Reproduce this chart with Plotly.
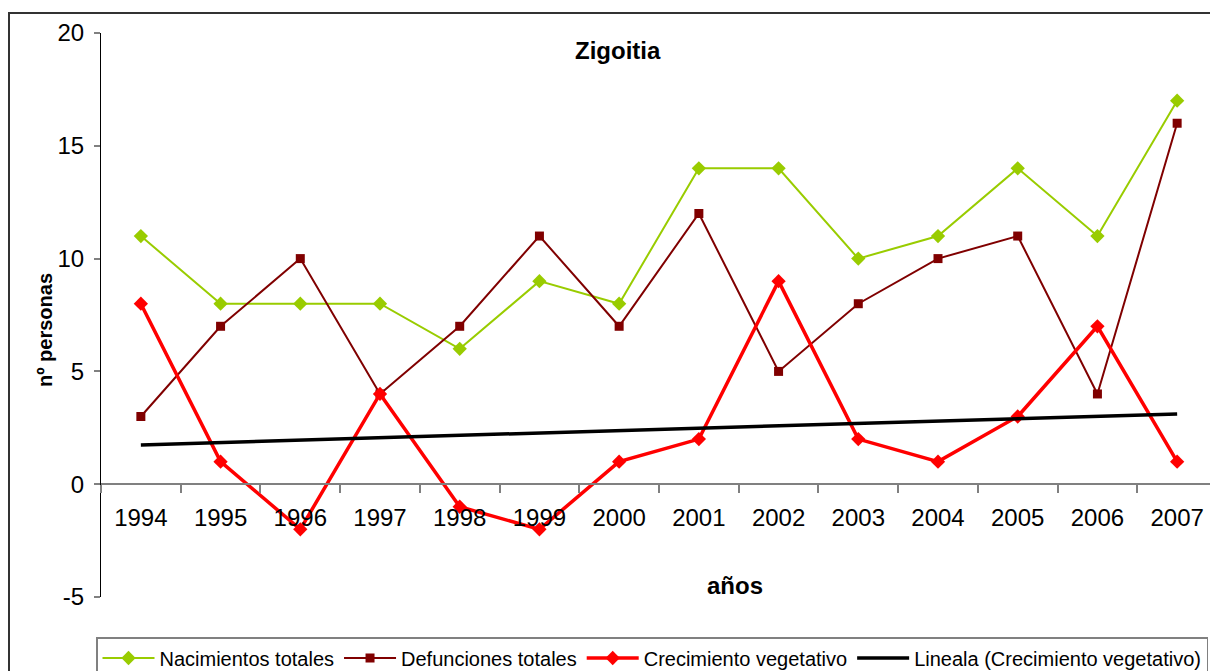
"""Zigoitia: births, deaths and natural growth per year, with linear trend."""

import numpy as np
import plotly.graph_objects as go

years = ["1994", "1995", "1996", "1997", "1998", "1999", "2000",
         "2001", "2002", "2003", "2004", "2005", "2006", "2007"]
nacimientos = [11, 8, 8, 8, 6, 9, 8, 14, 14, 10, 11, 14, 11, 17]
defunciones = [3, 7, 10, 4, 7, 11, 7, 12, 5, 8, 10, 11, 4, 16]
crecimiento = [8, 1, -2, 4, -1, -2, 1, 2, 9, 2, 1, 3, 7, 1]
y_ticks = [-5, 0, 5, 10, 15, 20]
y_tick_text = ["-5", "0", "5", "10", "15", "20"]

# Excel-style linear trend ("Lineala") fitted on the growth series
idx = np.arange(len(years))
slope, intercept = np.polyfit(idx, crecimiento, 1)
trend = slope * idx + intercept

W, H = 1218, 671
OFF = 8  # the page body margin shifts the figure by 8px
FONT = "Liberation Sans, Arial, sans-serif"


def px_x(p):
    return (p - OFF) / W


def px_y(p):
    return 1 - (p - OFF) / H


y_dom = [px_y(597), px_y(33)]
zero_pos = px_y(484)

fig = go.Figure()
fig.add_trace(go.Scatter(
    x=years, y=nacimientos, mode="lines+markers", name="Nacimientos totales",
    line=dict(color="#99CC00", width=2),
    marker=dict(symbol="diamond", size=11, color="#99CC00"),
))
fig.add_trace(go.Scatter(
    x=years, y=defunciones, mode="lines+markers", name="Defunciones totales",
    line=dict(color="#800000", width=2),
    marker=dict(symbol="square", size=9, color="#800000"),
))
fig.add_trace(go.Scatter(
    x=years, y=crecimiento, mode="lines+markers", name="Crecimiento vegetativo",
    line=dict(color="#FF0000", width=3.5),
    marker=dict(symbol="diamond", size=11, color="#FF0000"),
))
fig.add_trace(go.Scatter(
    x=years, y=trend, mode="lines", name="Lineala (Crecimiento vegetativo)",
    line=dict(color="#000000", width=3.5),
))


def label(text, x, y, size, angle=0):
    return dict(text=text, x=px_x(x), y=px_y(y), xref="paper", yref="paper",
                xanchor="center", yanchor="middle", showarrow=False,
                textangle=angle, font=dict(size=size))


fig.update_layout(
    width=W, height=H,
    margin=dict(l=0, r=0, t=0, b=0, autoexpand=False),
    paper_bgcolor="white", plot_bgcolor="white",
    font=dict(family=FONT, color="black"),
    showlegend=True,
    legend=dict(
        orientation="h", x=px_x(96), y=px_y(637), xanchor="left", yanchor="top",
        font=dict(size=20, family=FONT), bordercolor="#808080", borderwidth=1.5,
        bgcolor="white", itemwidth=52, tracegroupgap=0,
    ),
    xaxis=dict(
        type="category", domain=[px_x(101), px_x(1217)], range=[-0.5, 13.5],
        anchor="free", position=zero_pos,
        showline=True, linecolor="#808080", linewidth=2,
        ticks="outside", tickson="boundaries", ticklen=8, tickcolor="#808080", tickwidth=1.5,
        tickfont=dict(size=24), ticklabelstandoff=12,
        showgrid=False, zeroline=False,
    ),
    yaxis=dict(
        domain=y_dom, range=[-5, 20], tickvals=y_ticks, ticktext=y_tick_text,
        showline=True, linecolor="black", linewidth=1,
        ticks="outside", ticklen=6, tickcolor="#808080", tickwidth=1.5,
        tickfont=dict(size=24), ticklabelstandoff=5,
        showgrid=False, zeroline=False,
    ),
    annotations=[
        label("<b>Zigoitia</b>", 618, 51, 24),
        label("<b>años</b>", 735, 585, 24),
        label("<b>nº personas</b>", 45, 330, 20, angle=-90),
    ],
    shapes=[
        dict(type="rect", xref="paper", yref="paper",
             x0=px_x(9), y0=-0.05, x1=1.05, y1=px_y(13),
             line=dict(color="#333333", width=2), layer="below"),
    ],
)

fig.write_html("out.html")
